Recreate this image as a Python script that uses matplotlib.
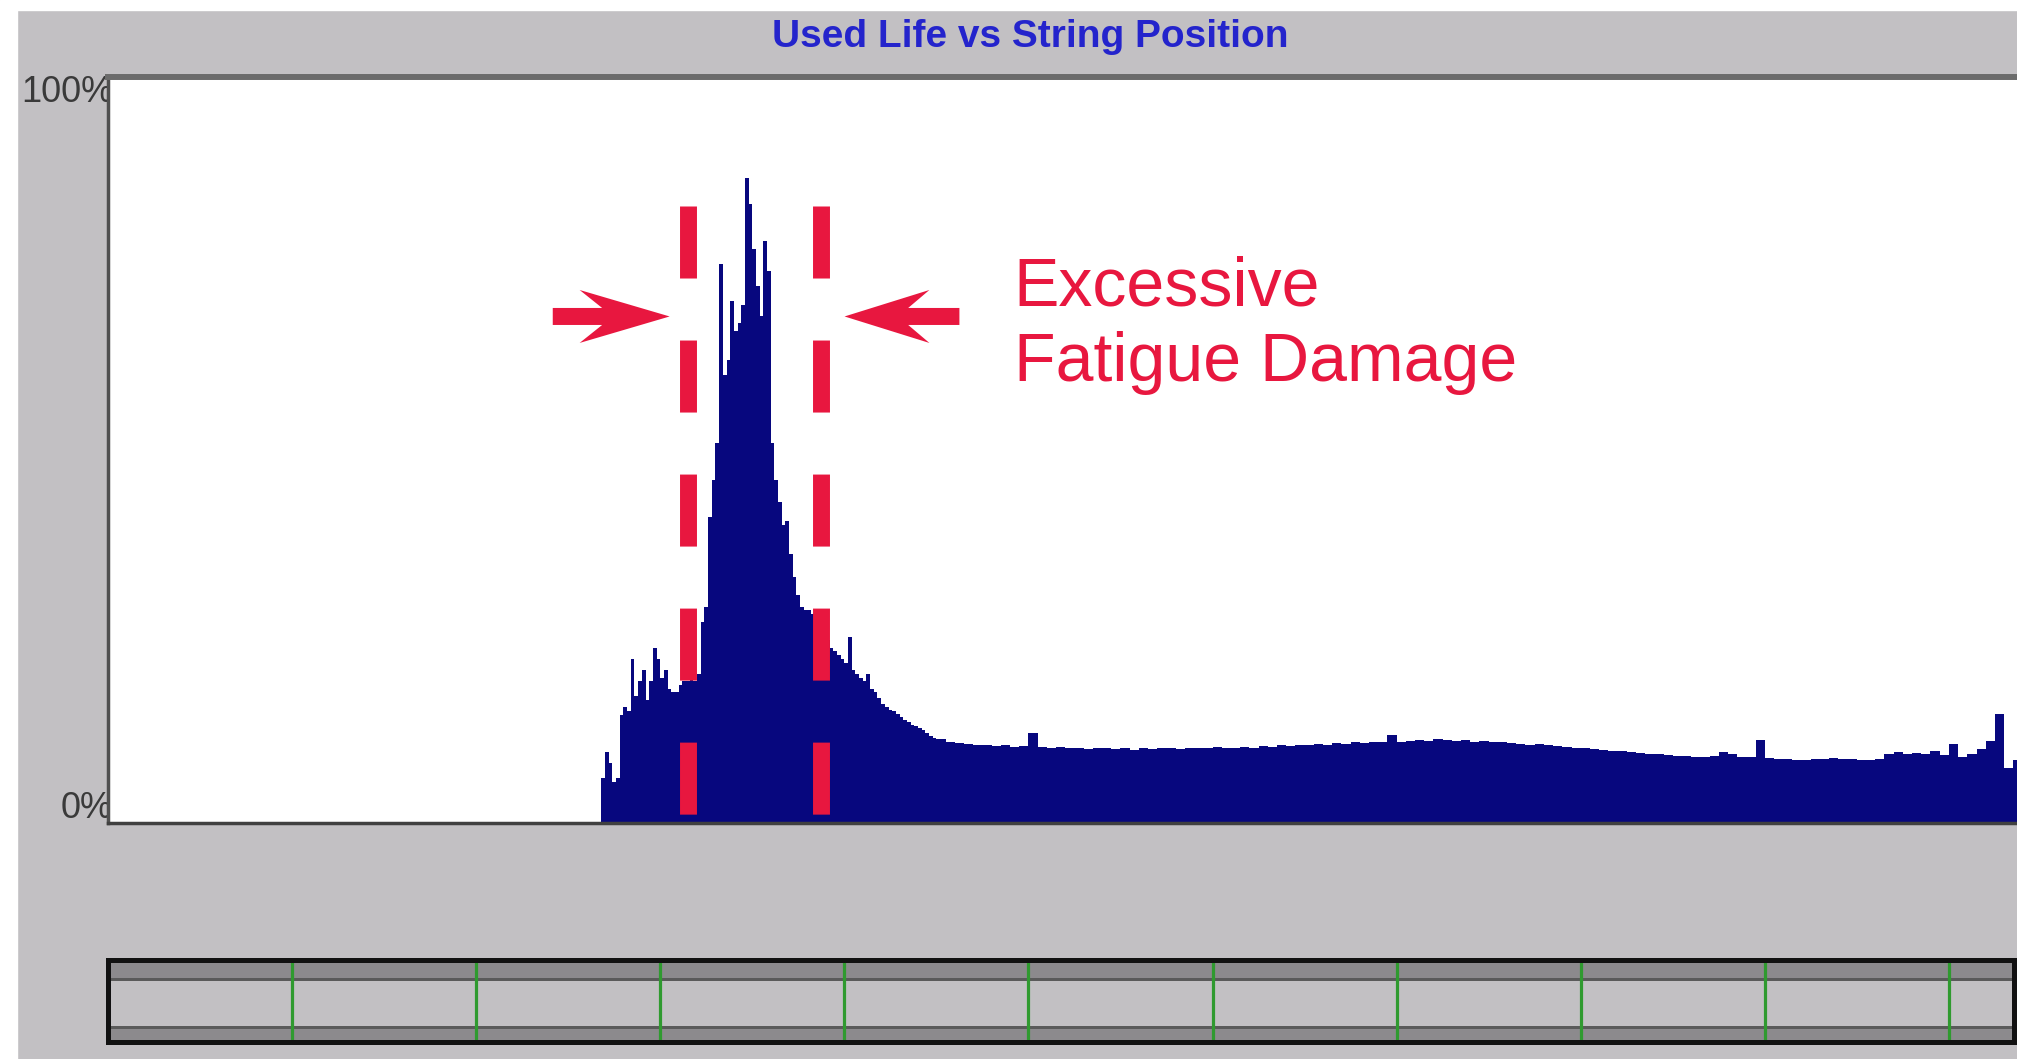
import numpy as np
import matplotlib.pyplot as plt
from matplotlib import font_manager
from matplotlib.patches import Rectangle

# used life (%) along the string, string position in ft
# fine bins over the damaged zone, coarser bins over the rest of the string
start_fine_ft = 2680
bin_fine_ft = 20
used_life_fine = [6, 9.5, 8, 5.5, 6, 14.5, 15.5, 15, 22, 17,
                  19, 20.5, 16.5, 19, 23.5, 22, 19.5, 20.5, 18, 17.5,
                  17.5, 18.5, 19, 19, 19.5, 19, 20, 27, 29, 41,
                  46, 51, 75, 60, 62, 70, 66, 67, 69.5, 86.5,
                  83, 77, 72, 68, 78, 74, 51, 46, 43, 40,
                  40.5, 36, 33, 30.5, 29, 28.5, 28.5, 28, 27.5, 26.5,
                  25.5, 24.5, 23.5, 23, 22.5, 22, 21.5, 25, 20.5, 20,
                  19.5, 19, 20, 18, 17.5, 16.8, 16, 15.5, 15.2, 15,
                  14.6, 14.2, 13.8, 13.5, 13.2, 13, 12.7, 12.4, 12.0, 11.7,
                  11.4]
bin_coarse_ft = 50
used_life_coarse = [11.2, 10.9, 10.7, 10.6, 10.4, 10.5, 10.3, 10.4, 10.2, 10.3,
                    12.0, 10.2, 10.1, 10.2, 10.0, 10.1, 9.9, 10.0, 10.1, 9.9,
                    10.0, 9.8, 10.0, 9.9, 10.1, 10.0, 9.9, 10.0, 10.1, 10.0,
                    10.2, 10.1, 10.0, 10.2, 10.1, 10.3, 10.2, 10.4, 10.3, 10.5,
                    10.4, 10.6, 10.5, 10.7, 10.6, 10.8, 10.7, 10.9, 10.8, 11.8,
                    10.9, 11.0, 11.1, 11.0, 11.2, 11.1, 11.0, 11.1, 10.9, 11.0,
                    10.8, 10.9, 10.7, 10.6, 10.5, 10.6, 10.4, 10.3, 10.2, 10.1,
                    10.0, 9.9, 9.8, 9.7, 9.6, 9.5, 9.4, 9.3, 9.2, 9.1,
                    9.0, 9.0, 8.9, 8.9, 9.0, 9.5, 9.3, 8.9, 8.8, 11.1,
                    8.7, 8.6, 8.6, 8.4, 8.4, 8.6, 8.6, 8.7, 8.6, 8.6,
                    8.5, 8.5, 8.6, 9.2, 9.5, 9.3, 9.4, 9.3, 9.6, 9.1,
                    10.6, 8.9, 9.3, 9.9, 11.0, 14.6, 7.4, 8.5]
damage_zone_ft = [3149, 3871]
joints_ft = [1000, 2000, 3000, 4000, 5000, 6000, 7000, 8000, 9000, 10000]
x_max = 10370

edges_fine = start_fine_ft + bin_fine_ft * np.arange(len(used_life_fine) + 1)
edges_coarse = edges_fine[-1] + bin_coarse_ft * np.arange(len(used_life_coarse) + 1)
edges = np.concatenate([edges_fine[:-1], edges_coarse])
used_life = np.array(used_life_fine + used_life_coarse)

names = {f.name for f in font_manager.fontManager.ttflist}
narrow = 'Liberation Sans Narrow' if 'Liberation Sans Narrow' in names else 'Liberation Sans'
lbl_size = 31 if narrow == 'Liberation Sans Narrow' else 26

W, H = 2017, 1059
bg = '#c2c0c3'
navy = '#07077e'
red = '#e8173f'

fig = plt.figure(figsize=(W / 100, H / 100), dpi=100, facecolor=bg)
fig.add_artist(Rectangle((0, 0), 17 / W, 1, transform=fig.transFigure,
                         color='white', zorder=-5))
fig.add_artist(Rectangle((0, 1 - 10 / H), 1, 10 / H, transform=fig.transFigure,
                         color='white', zorder=-5))

# main plot
ax = fig.add_axes([108 / W, 1 - 823 / H, (2017 - 108) / W, (823 - 77) / H])
ax.set_facecolor('white')
ax.stairs(used_life, edges, fill=True, color=navy, lw=0)
ax.set_xlim(0, x_max)
ax.set_ylim(0, 100)
ax.set_xticks([])
ax.set_yticks([])
ax.spines['right'].set_visible(False)
ax.spines['top'].set_color('#6b6b6b')
ax.spines['top'].set_linewidth(4.3)
ax.spines['left'].set_color('#505050')
ax.spines['left'].set_linewidth(2.5)
ax.spines['bottom'].set_color('#404040')
ax.spines['bottom'].set_linewidth(2.5)

for x in damage_zone_ft:
    ax.plot([x, x], [82.7, 0], color=red, lw=12.2, linestyle=(0, (4.25, 3.66)),
            zorder=3)

ax.arrow(2416, 67.9, 635, 0, width=2.28, head_width=7.1, head_length=489,
         overhang=0.25, length_includes_head=True, color=red, lw=0, zorder=4)
ax.arrow(4625, 67.9, -624, 0, width=2.28, head_width=7.1, head_length=461,
         overhang=0.25, length_includes_head=True, color=red, lw=0, zorder=4)

ax.text(4919, 69.4, 'Excessive', color=red, fontsize=49,
        family='Liberation Sans', va='baseline', zorder=5)
ax.text(4919, 59.2, 'Fatigue Damage', color=red, fontsize=49,
        family='Liberation Sans', va='baseline', zorder=5)

fig.text(1030 / W, 1 - 47 / H, 'Used Life vs String Position', ha='center',
         va='baseline', fontsize=28, fontweight='bold', family='Liberation Sans',
         color='#2424cc')
fig.text(113 / W, 1 - 75 / H, '100%', ha='right', va='top', fontsize=lbl_size,
         family=narrow, color='#3a3a3a', zorder=-1)
fig.text(113 / W, 1 - 818 / H, '0%', ha='right', va='baseline', fontsize=lbl_size,
         family=narrow, color='#3a3a3a', zorder=-1)

# string / joint bar
ax2 = fig.add_axes([108 / W, 1 - 1042 / H, (2014 - 108) / W, (1042 - 960) / H])
ax2.set_facecolor(bg)
ax2.set_xlim(0, x_max * (2014 - 108) / (2017 - 108))
ax2.set_ylim(0, 1)
ax2.axhspan(0.78, 0.96, color='#8c8a8d', lw=0)
ax2.axhspan(0.74, 0.78, color='#5a5a5a', lw=0)
ax2.axhspan(0.16, 0.20, color='#5a5a5a', lw=0)
ax2.axhspan(0.03, 0.16, color='#8c8a8d', lw=0)
ax2.vlines(joints_ft, 0, 1, color='#2f9a2f', lw=2.3)
ax2.set_xticks([])
ax2.set_yticks([])
for s in ax2.spines.values():
    s.set_color('#111111')
    s.set_linewidth(3.6)

fig.savefig('out.png', dpi=100, facecolor=fig.get_facecolor())
